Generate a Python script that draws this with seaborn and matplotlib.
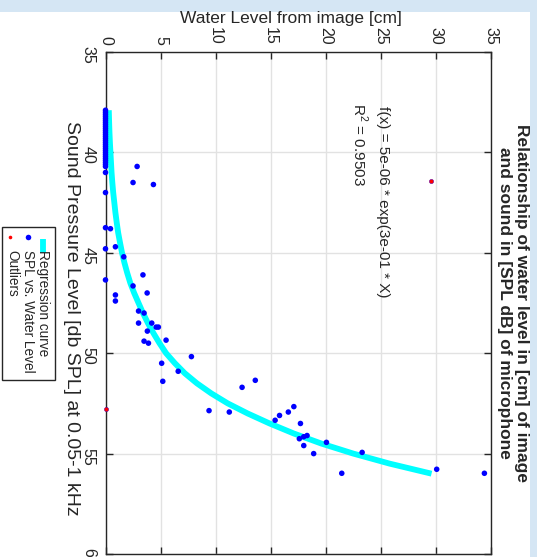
import numpy as np
import pandas as pd
import seaborn as sns
import matplotlib.pyplot as plt
from matplotlib.lines import Line2D
from matplotlib.patches import Rectangle

# measured points: water level [cm] vs SPL [dB]
band_spl = [37.9, 38.0, 38.1, 38.2, 38.3, 38.4, 38.5, 38.6, 38.7, 38.8, 38.9, 39.0, 39.1, 39.2, 39.3,
            39.4, 39.5, 39.6, 39.7, 39.8, 39.9, 40.0, 40.1, 40.2, 40.3, 40.4, 40.5, 40.6, 40.7]
water = [0] * len(band_spl) + [
         0, 0, 0, 0.45, 0, 0.9, 1.66, 0,
         2.87, 2.5, 4.35,
         3.4, 2.5, 0.9, 0.9, 3.78, 3.0, 3.5, 3.0, 4.2, 4.6, 4.8, 3.8, 3.5, 3.9, 5.5,
         5.1, 5.2, 6.6,
         7.8, 9.4, 11.24, 12.4, 13.6, 15.4, 15.8, 16.6, 17.1, 17.7, 17.6, 18.0, 18.3, 18.0, 18.9, 20.06,
         23.3, 21.45, 30.07, 34.4]
spl = band_spl + [
       41.0, 42.0, 43.75, 43.8, 44.8, 44.7, 45.2, 46.35,
       40.7, 41.5, 41.6,
       46.1, 46.65, 47.1, 47.4, 47.0, 47.9, 48.0, 48.5, 48.5, 48.7, 48.7, 48.9, 49.4, 49.5, 49.35,
       50.5, 51.4, 50.9,
       50.17, 52.86, 52.93, 51.7, 51.35, 53.34, 53.1, 52.93, 52.66, 53.5, 54.26, 54.16, 54.1, 54.6, 55.0, 54.44,
       54.94, 55.98, 55.78, 55.98]

outlier_water = [29.55, 0]
outlier_spl = [41.42, 52.8]

# regression curve
curve_spl = [37.9, 38.5, 39, 39.5, 40, 40.5, 41, 41.5, 42, 42.5, 43, 43.5, 44, 44.5, 45, 45.5, 46, 46.5,
             47, 47.5, 48, 48.5, 49, 49.5, 50, 50.5, 51, 51.5, 52, 52.5, 53, 53.5, 54, 54.5, 55, 55.5, 56]
curve_water = [0.3, 0.33, 0.36, 0.4, 0.45, 0.5, 0.55, 0.62, 0.7, 0.8, 0.9, 1.02, 1.15, 1.32, 1.5, 1.72,
               1.97, 2.25, 2.6, 3.0, 3.4, 3.85, 4.35, 4.9, 5.5, 6.3, 7.2, 8.3, 9.6, 11.1, 12.9, 14.9, 17.1,
               19.6, 22.5, 25.8, 29.6]

fit_text = 'f(x) = 5e-06 * exp(3e-01 * X)'
r2_text = 'R$^2$ = 0.9503'

sns.set_style('white')
plt.rcParams['font.family'] = ['Liberation Sans', 'DejaVu Sans']
plt.rcParams['mathtext.fontset'] = 'custom'
plt.rcParams['mathtext.rm'] = 'Liberation Sans'

W, H = 537, 557
fig = plt.figure(figsize=(W / 100, H / 100), dpi=100, facecolor='#d5e6f4')
fig.patches.append(Rectangle((0, 0), 530 / W, (H - 12) / H, transform=fig.transFigure,
                             facecolor='white', edgecolor='none', zorder=-1))

ax = fig.add_axes([105.5 / W, (H - 554) / H, (491 - 105.5) / W, (554 - 52) / H])
ax.set_facecolor('white')

pts = pd.DataFrame({'water': water, 'spl': spl})
outl = pd.DataFrame({'water': outlier_water, 'spl': outlier_spl})
curve = pd.DataFrame({'water': curve_water, 'spl': curve_spl})

sns.lineplot(data=curve, x='water', y='spl', sort=False, color='#00ffff', lw=4.2,
             solid_capstyle='butt', solid_joinstyle='round', ax=ax, zorder=2)
sns.scatterplot(data=pts, x='water', y='spl', color='#0000ff', s=16, edgecolor='none', ax=ax, zorder=3,
                clip_on=False)
sns.scatterplot(data=outl, x='water', y='spl', color='#ff0000', s=9, edgecolor='#6000a0', linewidth=0.4,
                ax=ax, zorder=4, clip_on=False)

ax.set_xlim(0, 35)
ax.set_ylim(60, 35)
ax.set_xticks(np.arange(0, 36, 5))
ax.set_yticks(np.arange(35, 61, 5))
ax.grid(True, color='#e2e2e2', lw=1)
ax.xaxis.tick_top()
ax.tick_params(direction='in', length=5, width=1, top=True, bottom=True, left=True, right=True,
               labeltop=True, labelbottom=False, labelsize=11.5, color='#262626')
ax.tick_params(axis='x', labelrotation=-90, pad=5)
ax.tick_params(axis='y', labelrotation=-90, pad=7)
for s in ax.spines.values():
    s.set_color('#262626')
    s.set_linewidth(1)
ax.set_xlabel('')
ax.set_ylabel('')

fig.text(291 / W, 1 - 19 / H, 'Water Level from image [cm]', ha='center', va='center', fontsize=12.5,
         color='#262626')
fig.text(71 / W, 1 - 318 / H, 'Sound Pressure Level [db SPL] at 0.05-1 kHz', ha='center', va='center',
         rotation=-90, fontsize=14, color='#262626')
fig.text(513 / W, 1 - 303 / H, 'Relationship of water level in [cm] of image\nand sound in [SPL dB] of microphone',
         ha='center', va='center', rotation=-90, fontsize=12.5, fontweight='bold', multialignment='center',
         linespacing=1.1)

ax.text(25.2, 37.7, fit_text, rotation=-90, ha='center', va='top', fontsize=11)
ax.text(23.1, 37.55, r2_text, rotation=-90, ha='center', va='top', fontsize=11)

# legend drawn by hand (rotated like the rest of the figure)
fig.patches.append(Rectangle((1.5 / W, 1 - 380 / H), 53 / W, 153 / H, transform=fig.transFigure,
                             facecolor='white', edgecolor='#262626', lw=1, zorder=5))
fig.lines.append(Line2D([43 / W, 43 / W], [1 - 239 / H, 1 - 253 / H], transform=fig.transFigure,
                        color='#00ffff', lw=4.2, solid_capstyle='butt', zorder=6))
fig.lines.append(Line2D([28 / W], [1 - 237 / H], transform=fig.transFigure, marker='o', ms=4,
                        color='#0000ff', mec='none', ls='none', zorder=6))
fig.lines.append(Line2D([10 / W], [1 - 237 / H], transform=fig.transFigure, marker='o', ms=2.6,
                        color='#ff0000', mec='none', ls='none', zorder=6))
for xx, lab in [(43, 'Regression curve'), (28, 'SPL vs. Water Level'), (12, 'Outliers')]:
    fig.text(xx / W, 1 - 250 / H, lab, rotation=-90, ha='center', va='top', fontsize=9.8, zorder=7)

fig.savefig('out.png', dpi=100, facecolor=fig.get_facecolor())
